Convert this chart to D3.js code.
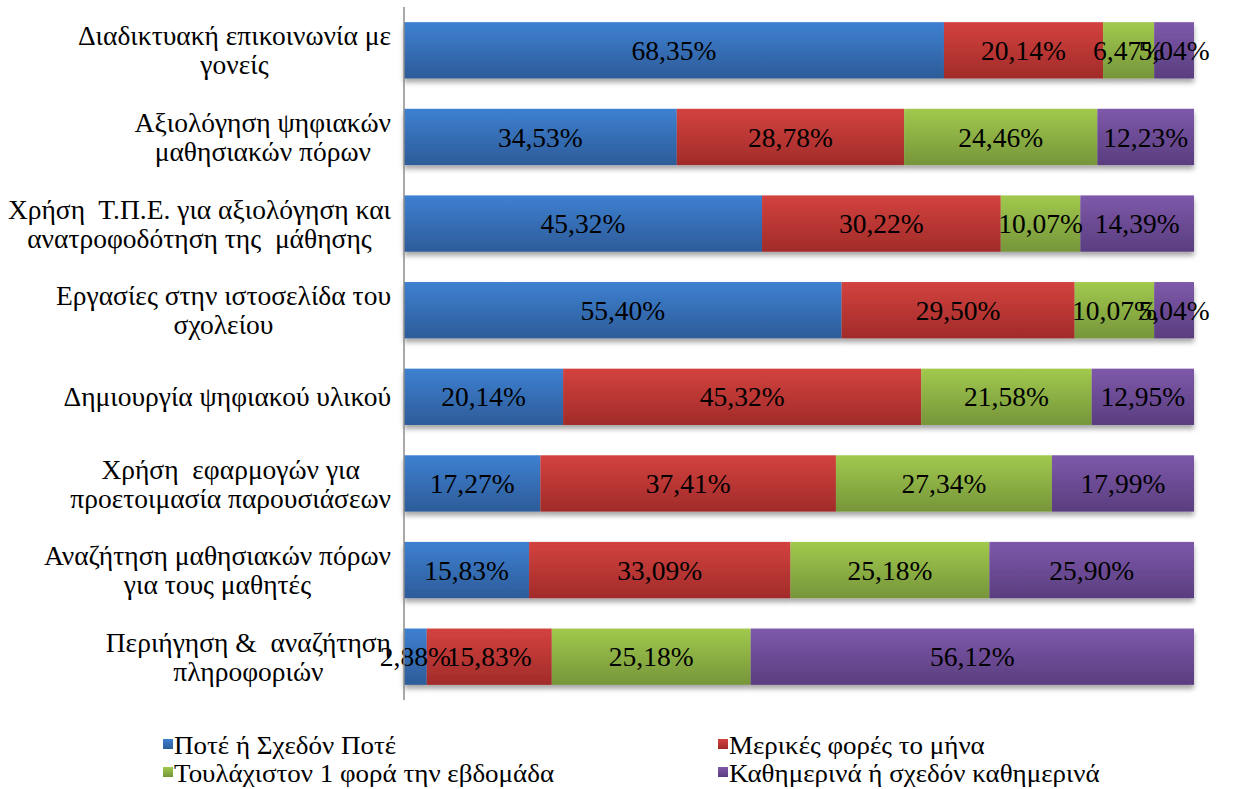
<!DOCTYPE html>
<html><head><meta charset="utf-8">
<script src="https://cdn.jsdelivr.net/npm/d3@7"></script>
<style>body{margin:0;background:#fff}svg{display:block}</style>
</head><body>
<script>
const categories = [
  "Διαδικτυακή επικοινωνία με\nγονείς",
  "Αξιολόγηση ψηφιακών\nμαθησιακών πόρων",
  "Χρήση  Τ.Π.Ε. για αξιολόγηση και\nανατροφοδότηση της  μάθησης",
  "Εργασίες στην ιστοσελίδα του\nσχολείου",
  "Δημιουργία ψηφιακού υλικού",
  "Χρήση  εφαρμογών για\nπροετοιμασία παρουσιάσεων",
  "Αναζήτηση μαθησιακών πόρων\nγια τους μαθητές",
  "Περιήγηση &  αναζήτηση\nπληροφοριών"
];
const seriesNames = ["Ποτέ ή Σχεδόν Ποτέ","Μερικές φορές το μήνα","Τουλάχιστον 1 φορά την εβδομάδα","Καθημερινά ή σχεδόν καθημερινά"];
const never   = [68.35,34.53,45.32,55.40,20.14,17.27,15.83,2.88];
const monthly = [20.14,28.78,30.22,29.50,45.32,37.41,33.09,15.83];
const weekly  = [6.47,24.46,10.07,10.07,21.58,27.34,25.18,25.18];
const daily   = [5.04,12.23,14.39,5.04,12.95,17.99,25.90,56.12];
const seriesValues = [never, monthly, weekly, daily];
const colorsTop = ["#3e80d1","#d3423f","#a1c94d","#7e59aa"];
const colorsBot = ["#2d5c99","#a12b29","#76953a","#5a3d7f"];
const FONT = '"Liberation Serif"';

const W = 1235, H = 789;
const svg = d3.select("body").append("svg").attr("width",W).attr("height",H);
const defs = svg.append("defs");
seriesNames.forEach((s,i)=>{
  const g = defs.append("linearGradient").attr("id","g"+i).attr("x1",0).attr("y1",0).attr("x2",0).attr("y2",1);
  g.append("stop").attr("offset","0%").attr("stop-color",colorsTop[i]);
  g.append("stop").attr("offset","100%").attr("stop-color",colorsBot[i]);
});
const f = defs.append("filter").attr("id","sh").attr("x","-5%").attr("y","-20%").attr("width","110%").attr("height","160%");
f.append("feDropShadow").attr("dx",0).attr("dy",4).attr("stdDeviation",2.5).attr("flood-color","#000").attr("flood-opacity",0.35);

const x = d3.scaleLinear().domain([0,100]).range([404,1194]);
const y = d3.scaleBand().domain(categories).range([7,700]).paddingInner(0.35).paddingOuter(0.175);

const rows = categories.map((c,ci)=>{
  const vals = seriesValues.map(s=>s[ci]);
  const tot = d3.sum(vals);
  let acc = 0;
  return vals.map((v,si)=>{const x0=acc/tot*100; acc+=v; return {c,si,v,x0,x1:acc/tot*100};});
});
const fmt = v => d3.format(".2f")(v).replace(".",",")+"%";
const T = sel => sel.style("font-family",FONT).style("white-space","pre").attr("fill","#000");

const gBars = svg.append("g");
rows.forEach(r=>{
  const rowG = gBars.append("g").attr("filter","url(#sh)");
  rowG.selectAll("rect").data(r).join("rect")
    .attr("x",d=>x(d.x0)).attr("width",d=>x(d.x1)-x(d.x0))
    .attr("y",d=>y(d.c)).attr("height",y.bandwidth())
    .attr("fill",d=>"url(#g"+d.si+")");
});
rows.forEach(r=>{
  svg.append("g").selectAll("text").data(r).join("text")
    .attr("x",d=>(x(d.x0)+x(d.x1))/2).attr("y",d=>y(d.c)+y.bandwidth()/2)
    .attr("dy","0.35em").attr("text-anchor","middle").style("font-size","27.5px")
    .call(T).text(d=>fmt(d.v));
});

// axis line
svg.append("line").attr("x1",404).attr("x2",404).attr("y1",y.range()[0]).attr("y2",y.range()[1])
  .attr("stroke","#8c8c8c").attr("stroke-width",1.5);

// category labels: block right-aligned, lines centered in block
const lh = 29;
categories.forEach(c=>{
  const lines = c.split("\n");
  const g = svg.append("g");
  const ts = lines.map((l,i)=>g.append("text").style("font-size","27.5px").attr("text-anchor","middle").call(T)
    .attr("y", y(c)+y.bandwidth()/2 + (i-(lines.length-1)/2)*lh).attr("dy","0.35em").text(l));
  const wmax = d3.max(ts, t=>t.node().getComputedTextLength());
  const right = 391;
  ts.forEach(t=>t.attr("x", right - wmax/2));
});

// legend
const leg = [[166,745],[721,745],[166,773],[721,773]];
seriesNames.forEach((s,i)=>{
  const [lx,ly] = leg[i];
  svg.append("rect").attr("x",lx-3).attr("y",ly-6).attr("width",10).attr("height",10).attr("fill","url(#g"+i+")");
  svg.append("text").attr("transform",`translate(${lx+8},${ly}) scale(1,0.9)`).attr("dy","0.35em")
    .style("font-size","27px").call(T).text(s);
});
</script>
</body></html>
